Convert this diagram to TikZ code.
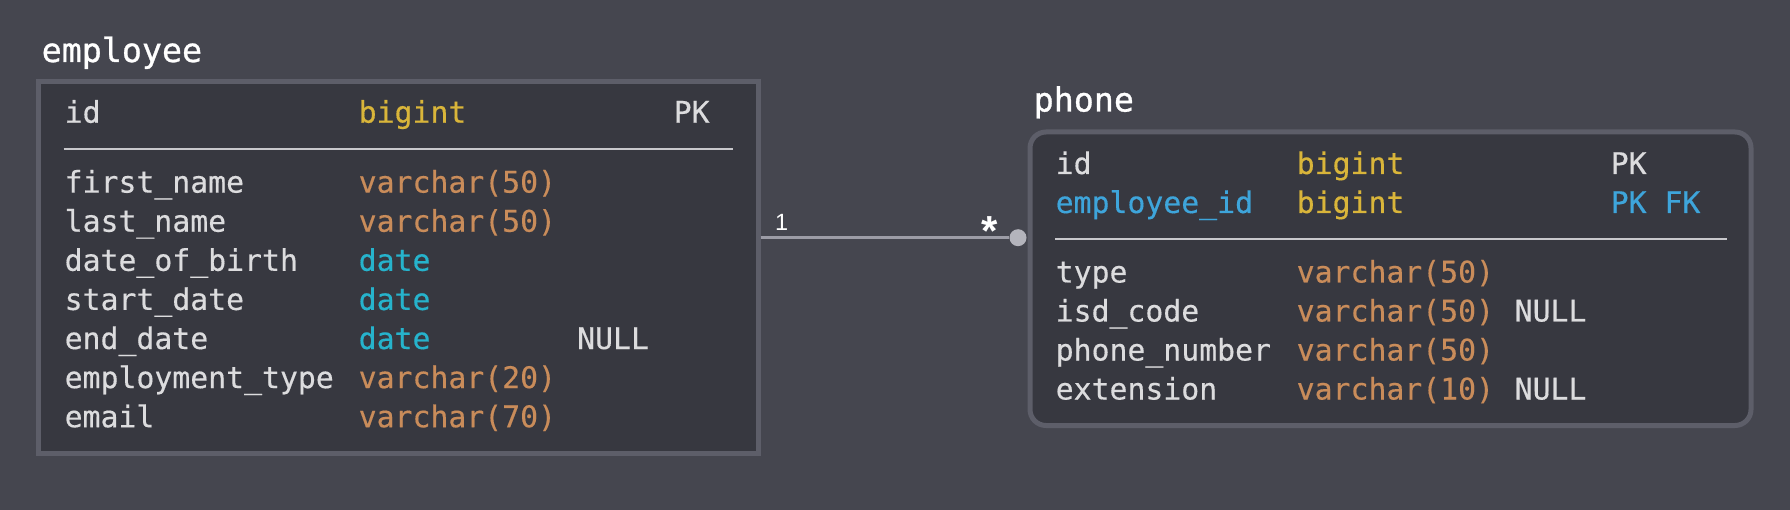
\documentclass[tikz,border=0pt]{standalone}
\usepackage{fontspec}
\newfontfamily\monof[FakeBold=0.4]{DejaVu Sans Mono}
\newfontfamily\titlef[FakeBold=0.9]{DejaVu Sans Mono}
\newfontfamily\sansf{Liberation Sans}
\definecolor{bg}{HTML}{45464F}
\definecolor{boxfill}{HTML}{373840}
\definecolor{boxline}{HTML}{5D5E69}
\definecolor{nametxt}{HTML}{DCDCDE}
\definecolor{bigintc}{HTML}{D9B53A}
\definecolor{varcharc}{HTML}{C98C5A}
\definecolor{datec}{HTML}{26B3CC}
\definecolor{fkc}{HTML}{3EA5DB}
\definecolor{sepc}{HTML}{C8C8CC}
\definecolor{connc}{HTML}{9C9CA6}
\definecolor{dotc}{HTML}{B4B4BC}
\tikzset{
  cell/.style={anchor=base west, inner sep=0pt, text=nametxt, font=\monof\fontsize{29.8}{32}\selectfont},
  ttl/.style={anchor=base west, inner sep=0pt, text=white, font=\titlef\fontsize{33.3}{36}\selectfont},
  tbl/.style={draw=boxline, fill=boxfill, line width=5pt, inner sep=0pt},
  sepline/.style={draw=sepc, line width=2.2pt},
  conn/.style={draw=connc, line width=3pt},
  lbl/.style={inner sep=0pt, text=white},
}
\begin{document}
\begin{tikzpicture}[x=1pt,y=-1pt]
\fill[bg] (0,0) rectangle (1790,510);
\useasboundingbox (0,0) rectangle (1790,510);
% boxes
\node[tbl, minimum width=719.9pt, minimum height=372pt] (emp) at (398.25,267.3) {};
\node[tbl, rounded corners=16pt, minimum width=721pt, minimum height=293.5pt] (pho) at (1390.5,278.75) {};
% titles
\node[ttl] (empT) at (41.5,62) {employee};
\node[ttl] (phoT) at (1033.5,111.5) {phone};
% employee rows
\node[cell] (e1n) at (64.5,122.7) {id};
\node[cell, text=bigintc] (e1t) at (358.5,122.7) {bigint};
\node[cell] (e1k) at (673.5,122.7) {PK};
\coordinate (es1) at (63.7,149.3);
\coordinate (es2) at (733,149.3);
\draw[sepline] (es1) -- (es2);
\node[cell] (e2n) at (64.5,192.6) {first\_name};
\node[cell, text=varcharc] (e2t) at (358.5,192.6) {varchar(50)};
\node[cell] (e3n) at (64.5,231.7) {last\_name};
\node[cell, text=varcharc] (e3t) at (358.5,231.7) {varchar(50)};
\node[cell] (e4n) at (64.5,270.8) {date\_of\_birth};
\node[cell, text=datec] (e4t) at (358.5,270.8) {date};
\node[cell] (e5n) at (64.5,309.9) {start\_date};
\node[cell, text=datec] (e5t) at (358.5,309.9) {date};
\node[cell] (e6n) at (64.5,349) {end\_date};
\node[cell, text=datec] (e6t) at (358.5,349) {date};
\node[cell] (e6x) at (577,349) {NULL};
\node[cell] (e7n) at (64.5,388.1) {employment\_type};
\node[cell, text=varcharc] (e7t) at (358.5,388.1) {varchar(20)};
\node[cell] (e8n) at (64.5,427.2) {email};
\node[cell, text=varcharc] (e8t) at (358.5,427.2) {varchar(70)};
% phone rows
\node[cell] (p1n) at (1055.5,174) {id};
\node[cell, text=bigintc] (p1t) at (1296.5,174) {bigint};
\node[cell] (p1k) at (1610.5,174) {PK};
\node[cell, text=fkc] (p2n) at (1055.5,213) {employee\_id};
\node[cell, text=bigintc] (p2t) at (1296.5,213) {bigint};
\node[cell, text=fkc] (p2k) at (1610.5,213) {PK FK};
\coordinate (ps1) at (1055,239.3);
\coordinate (ps2) at (1727,239.3);
\draw[sepline] (ps1) -- (ps2);
\node[cell] (p3n) at (1055.5,282.5) {type};
\node[cell, text=varcharc] (p3t) at (1296.5,282.5) {varchar(50)};
\node[cell] (p4n) at (1055.5,321.5) {isd\_code};
\node[cell, text=varcharc] (p4t) at (1296.5,321.5) {varchar(50)};
\node[cell] (p4x) at (1514.5,321.5) {NULL};
\node[cell] (p5n) at (1055.5,360.5) {phone\_number};
\node[cell, text=varcharc] (p5t) at (1296.5,360.5) {varchar(50)};
\node[cell] (p6n) at (1055.5,399.5) {extension};
\node[cell, text=varcharc] (p6t) at (1296.5,399.5) {varchar(10)};
\node[cell] (p6x) at (1514.5,399.5) {NULL};
% connector
\coordinate (cstart) at (emp.east |- 0,237.7);
\node[circle, fill=dotc, inner sep=0pt, minimum size=17pt] (dot) at (1018,237.7) {};
\draw[conn] (cstart) -- (dot.west);
\node[lbl, anchor=base, font=\sansf\fontsize{23.5}{24}\selectfont] (one) at (781.7,230.5) {1};
\node[lbl, font=\sansf\bfseries\fontsize{42}{44}\selectfont] (many) at (990,231) {*};
\end{tikzpicture}
\end{document}
